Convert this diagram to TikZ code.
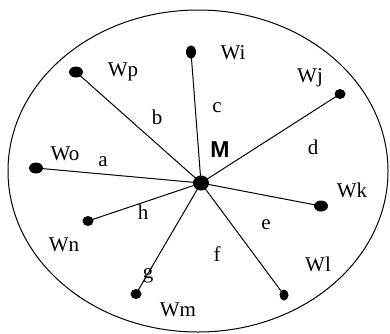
\documentclass[tikz,border=0pt]{standalone}
\usepackage{fontspec}
\setmainfont{Liberation Serif}
\newfontfamily\arialfont{Liberation Sans}
\usepackage{tikz}
\usetikzlibrary{
	shapes.geometric,
	positioning,
	calc
}

\begin{document}
\begin{tikzpicture}[
				x=1pt, y=-1pt,
				dot/.style={
					ellipse, fill=black, inner sep=0pt,
					minimum width=11pt, minimum height=10pt
				},
				bigdot/.style={
					dot, minimum width=14pt, minimum height=11pt
				},
				hubdot/.style={
					dot, minimum width=16pt, minimum height=15pt
				},
				lbl/.style={
					inner sep=0pt, font=\fontsize{21}{24}\selectfont
				},
				edge/.style={line width=1pt},
				]
				
				\useasboundingbox (0,0) rectangle (390,333);
				\draw[line width=1pt] (198,171) ellipse [x radius=190, y radius=161];
				
				%hub
				\node[hubdot] (M) at (201,183) {};
				\node[lbl, font=\arialfont\bfseries\fontsize{23}{26}\selectfont] (Mlbl) at (220,150) {M};
				
				%first set
				\node[dot, minimum height=13pt, minimum width=10pt] (wi) at (191,52) {};
				\node[bigdot] (wp) at (76,72) {};
				\node[dot] (wj) at (340,94) {};
				\node[bigdot] (wo) at (36,168) {};
				
				%2. set
				\node[bigdot] (wk) at (321,206) {};
				\node[dot] (wn) at (88,221) {};
				\node[dot] (wm) at (136,294) {};
				\node[dot, minimum width=9pt, minimum height=11pt] (wl) at (284,295) {};
				
				%edges
				\draw[edge] (M.center) -- (wi.center);
				\draw[edge] (M.center) -- (wp.center);
				\draw[edge] (M.center) -- (wj.center);
				\draw[edge] (M.center) -- (wo.center);
				\draw[edge] (M.center) -- (wk.center);
				\draw[edge] (M.center) -- (wn.center);
				\draw[edge] (M.center) -- (wm.center);
				\draw[edge] (M.center) -- (wl.center);
				
				%names
				\node[lbl] (wilbl) at (233,53) {Wi};
				\node[lbl] (wplbl) at (123,72) {Wp};
				\node[lbl] (wjlbl) at (310,78) {Wj};
				\node[lbl] (wolbl) at (65,154) {Wo};
				\node[lbl] (wklbl) at (352,190) {Wk};
				\node[lbl] (wnlbl) at (64,245) {Wn};
				\node[lbl] (wllbl) at (318,264) {Wl};
				\node[lbl] (wmlbl) at (178,310) {Wm};
				
				%edge letters
				\node[lbl] (albl) at (103,162) {a};
				\node[lbl] (blbl) at (157,117) {b};
				\node[lbl] (clbl) at (217,108) {c};
				\node[lbl] (dlbl) at (313,147) {d};
				\node[lbl] (elbl) at (266,225) {e};
				\node[lbl] (flbl) at (217,254) {f};
				\node[lbl] (glbl) at (148,275) {g};
				\node[lbl] (hlbl) at (143,212) {h};
			\end{tikzpicture}
\end{document}
